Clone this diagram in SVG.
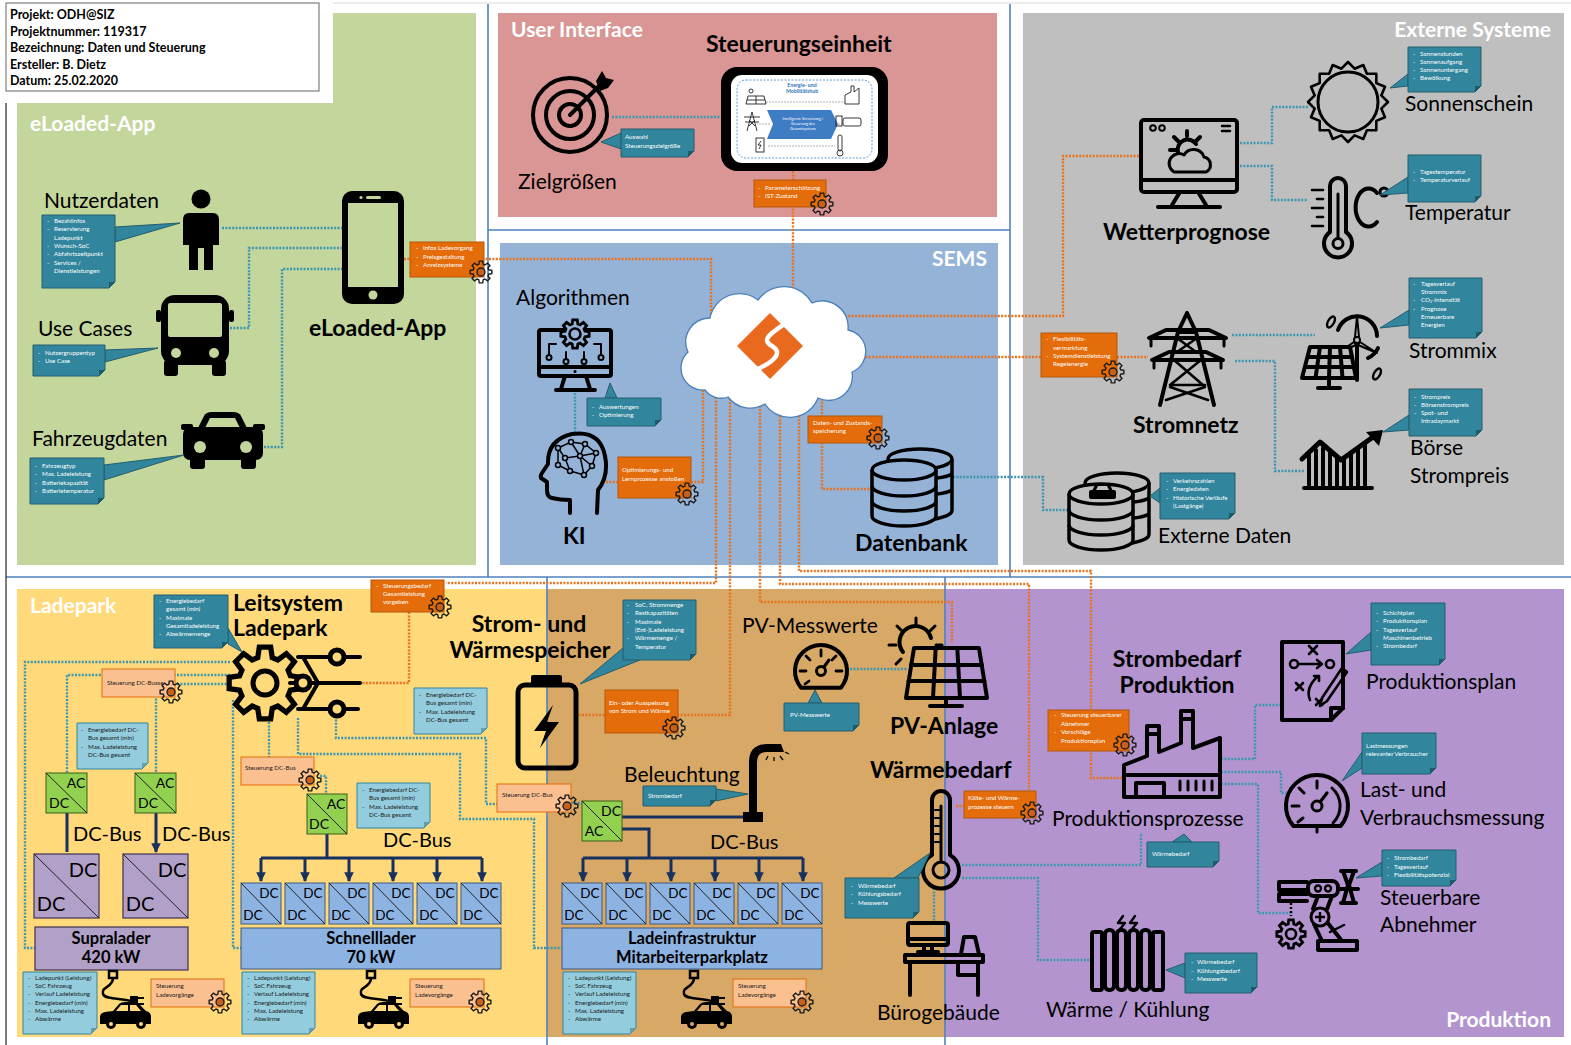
<svg xmlns="http://www.w3.org/2000/svg" width="1571" height="1045" viewBox="0 0 1571 1045">
<style>
text{font-family:Lato,"Liberation Sans","DejaVu Sans",sans-serif;fill:#000}
.lb{font-size:21px}
.bd{font-size:23px;font-weight:bold}
.pt{font-size:21px;font-weight:bold;fill:#fff}
.hd{font-size:12.5px;font-weight:bold}
.ct{font-size:6.2px;fill:#fff}
.cd{font-size:6.2px;fill:#1a1a1a}
.co{fill:#31859C;stroke:#245E6E;stroke-width:1}
.cf{fill:#1F5A69}
.cl{fill:#93CDDD;stroke:#31859C;stroke-width:1}
.clf{fill:#5E9FB2}
.ob{fill:#E46C0A;stroke:#B65708;stroke-width:1}
.lo{fill:#FAC090;stroke:#E46C0A;stroke-width:1}
.dt{fill:none;stroke:#3D97B1;stroke-width:2.4;stroke-dasharray:2 1.4}
.do{fill:none;stroke:#E8731E;stroke-width:2.4;stroke-dasharray:2 1.4}
.ic{fill:none;stroke:#000;stroke-width:4;stroke-linejoin:round;stroke-linecap:round}
.sec{fill:none;stroke:#4F81BD;stroke-width:1.6}
.bus{fill:none;stroke:#17305E;stroke-width:3}
.acdc{fill:#92D050;stroke:#3B5E1B;stroke-width:1}
.dcb{fill:#8DB3E2;stroke:#3D5A80;stroke-width:1}
.dcp{fill:#B1A0C7;stroke:#403151;stroke-width:1.2}
.dg{stroke:#222;stroke-width:1}
.s13{font-size:13.5px}
.s14{font-size:14px}
.s20{font-size:20px}
.bx{font-size:16.5px;font-weight:bold}
</style>
<defs>
<polygon id="gp" points="7.69,-2.2 10.86,-1.72 10.86,1.72 7.69,2.2 7,3.88 8.9,6.47 6.47,8.9 3.88,7 2.2,7.69 1.72,10.86 -1.72,10.86 -2.2,7.69 -3.88,7 -6.47,8.9 -8.9,6.47 -7,3.88 -7.69,2.2 -10.86,1.72 -10.86,-1.72 -7.69,-2.2 -7,-3.88 -8.9,-6.47 -6.47,-8.9 -3.88,-7 -2.2,-7.69 -1.72,-10.86 1.72,-10.86 2.2,-7.69 3.88,-7 6.47,-8.9 8.9,-6.47 7,-3.88"/>
<g id="gear">
<use href="#gp" fill="none" stroke="#1a1a1a" stroke-width="1.4"/>
<circle r="4" fill="#C7601A" stroke="#1a1a1a" stroke-width="1.3"/>
</g>
<marker id="ar" viewBox="0 0 10 10" refX="9" refY="5" markerWidth="3.2" markerHeight="3.2" orient="auto">
<path d="M0 0L10 5L0 10z" fill="#17305E"/>
</marker>
<g id="db" stroke="#000" stroke-width="3.5" stroke-linejoin="round">
<ellipse cx="49" cy="11" rx="32" ry="10"/>
<path d="M81 11V62A32 10 0 0 1 55 72"/>
<path d="M66 30Q76 29 81 26M66 46Q76 45 81 42" fill="none"/>
<path d="M1 22V68A32 10 0 0 0 65 68V22"/>
<ellipse cx="33" cy="22" rx="32" ry="10"/>
<path d="M1 38A32 10 0 0 0 65 38M1 53A32 10 0 0 0 65 53" fill="none"/>
</g>
<g id="plugcar">
<rect x="10" y="3" width="8" height="7" fill="none" stroke="#000" stroke-width="2.5"/>
<path d="M14 10C14 20 2 18 4 26C6 32 24 30 31 33" fill="none" stroke="#000" stroke-width="2.5"/>
<rect x="31" y="28" width="8" height="10" fill="#000"/>
<path d="M39 30H45M39 36H45" stroke="#000" stroke-width="2"/>
<path d="M1 56V49Q1 45 6 44L14 43L20 36Q22 34 26 34H35Q39 34 41 37L47 43Q52 44 52 49V56Z" fill="#000"/>
<path d="M17 43L22 37H29V43ZM31 37H37L42 43H31Z"/>
<circle cx="12" cy="56" r="5" fill="#000"/><circle cx="42" cy="56" r="5" fill="#000"/>
<circle cx="12" cy="56" r="2"/><circle cx="42" cy="56" r="2"/>
</g>
</defs>

<rect x="0" y="0" width="1571" height="1045" fill="#fff"/>
<path d="M319 3H1571" stroke="#ECECEC" stroke-width="2"/>

<!-- section backgrounds -->
<g id="panels">
<path d="M333 13H476V565H17V103H333Z" fill="#C3D69B"/>
<rect x="498" y="13" width="499" height="204" fill="#D99694"/>
<rect x="500" y="243" width="498" height="322" fill="#95B3D7"/>
<rect x="1023" y="13" width="541" height="552" fill="#BFBFBF"/>
<rect x="17" y="589" width="530" height="448" fill="#FFD97A"/>
<rect x="547" y="589" width="398" height="448" fill="#D8A866"/>
<rect x="945" y="589" width="619" height="448" fill="#B394CE"/>
<path class="sec" d="M488 4V577M488 230H1010M1010 4V577M6 577H1571M547 577V1045M945 577V1045"/>
<path d="M6 91V1045" stroke="#222" stroke-width="1.2"/>
<text class="pt" x="30" y="131">eLoaded-App</text>
<text class="pt" x="511" y="37">User Interface</text>
<text class="pt" x="987" y="266" text-anchor="end">SEMS</text>
<text class="pt" x="1551" y="37" text-anchor="end">Externe Systeme</text>
<text class="pt" x="30" y="613">Ladepark</text>
<text class="pt" x="1551" y="1027" text-anchor="end">Produktion</text>
</g>

<g id="header">
<rect x="0" y="0" width="333" height="103" fill="#fff"/>
<rect x="6" y="3" width="313" height="88" fill="#fff" stroke="#7F7F7F" stroke-width="1.2"/>
<text class="hd"><tspan x="10" y="19">Projekt: ODH@SIZ</tspan><tspan x="10" y="35.5">Projektnummer: 119317</tspan><tspan x="10" y="52">Bezeichnung: Daten und Steuerung</tspan><tspan x="10" y="68.5">Ersteller: B. Dietz</tspan><tspan x="10" y="85">Datum: 25.02.2020</tspan></text>
</g>

<!-- connectors -->
<g id="connectors">
<path class="dt" d="M222 228H342M230 328H249V248H342M264 447H282V269H342"/>
<path class="dt" d="M612 117H720"/>
<path class="dt" d="M575 393V432"/>
<path class="dt" d="M953 477H1043V510H1068"/>
<path class="dt" d="M1240 143H1272V107H1308M1240 166H1272V200H1308"/>
<path class="dt" d="M1232 335H1315M1235 361H1275V471H1305"/>
<path class="dt" d="M230 662H25V948H35M230 675H67V773M230 684H156V773M233 700V948H241M269 722V757M298 718V754H460V819H534V948H562M336 716V738H486V804H497M320 776H326V794M571 803H582"/>
<path class="dt" d="M850 669H907"/>
<path class="dt" d="M934 888V921M962 865H1141V833M962 878H1038V960H1089"/>
<path class="dt" d="M1221 759H1255V705H1281M1221 772H1281V793H1286M1221 784H1258V913H1293"/>
<path class="do" d="M404 259H711V360"/>
<path class="do" d="M793 171V320"/>
<path class="do" d="M606 482H703V372"/>
<path class="do" d="M822 378V489H871"/>
<path class="do" d="M838 316H1063V156H1142"/>
<path class="do" d="M845 357H1148"/>
<path class="do" d="M716 380V583H446M409 612V683H360"/>
<path class="do" d="M730 385V715H578"/>
<path class="do" d="M760 392V602H952V643"/>
<path class="do" d="M780 392V584H1029V790"/>
<path class="do" d="M799 375V571H1091V778H1123"/>
<path class="do" d="M956 806H964"/>
<path class="bus" d="M67 813V852M156 813V852" marker-end="url(#ar)"/>
<path class="bus" d="M327 834V858M261 858H482M622 817H745M622 829H649V858M583 858H803"/>
<path class="bus" marker-end="url(#ar)" d="M261 858V881"/>
<path class="bus" marker-end="url(#ar)" d="M305 858V881"/>
<path class="bus" marker-end="url(#ar)" d="M349 858V881"/>
<path class="bus" marker-end="url(#ar)" d="M393 858V881"/>
<path class="bus" marker-end="url(#ar)" d="M437 858V881"/>
<path class="bus" marker-end="url(#ar)" d="M482 858V881"/>
<path class="bus" marker-end="url(#ar)" d="M583 858V881"/>
<path class="bus" marker-end="url(#ar)" d="M627 858V881"/>
<path class="bus" marker-end="url(#ar)" d="M671 858V881"/>
<path class="bus" marker-end="url(#ar)" d="M715 858V881"/>
<path class="bus" marker-end="url(#ar)" d="M759 858V881"/>
<path class="bus" marker-end="url(#ar)" d="M803 858V881"/>
</g>

<!-- eLoaded-App -->
<g id="nutzerdaten">
<text class="lb" x="44" y="208">Nutzerdaten</text>
<circle cx="201" cy="199" r="9.5"/>
<path d="M189 213H213Q219 213 219 220V245H213V270H204V248H198V270H189V245H183V220Q183 213 189 213Z"/>
<polygon class="co" points="115,227 180,223 115,242"/>
<path class="co" d="M42 215h73v67l-6 6h-67z"/><path class="cf" d="M115 282h-6v6z"/>
<text class="ct"><tspan x="47" y="223">-</tspan><tspan x="54">Bezahlinfos</tspan><tspan x="47" y="231.3">-</tspan><tspan x="54">Reservierung</tspan><tspan x="54" y="239.6">Ladepunkt</tspan><tspan x="47" y="247.9">-</tspan><tspan x="54">Wunsch-SoC</tspan><tspan x="47" y="256.2">-</tspan><tspan x="54">Abfahrtszeitpunkt</tspan><tspan x="47" y="264.5">-</tspan><tspan x="54">Services /</tspan><tspan x="54" y="272.8">Dienstleistungen</tspan></text>
</g>
<g id="usecases">
<text class="lb" x="38" y="336">Use Cases</text>
<rect x="161" y="295" width="68" height="70" rx="14"/>
<rect x="168" y="303" width="54" height="34" rx="2" fill="#C3D69B"/>
<circle cx="176" cy="353" r="5" fill="#C3D69B"/><circle cx="214" cy="353" r="5" fill="#C3D69B"/>
<rect x="164" y="360" width="14" height="16" rx="3"/><rect x="212" y="360" width="14" height="16" rx="3"/>
<rect x="156" y="310" width="5" height="12" rx="2"/><rect x="229" y="310" width="5" height="12" rx="2"/>
<polygon class="co" points="105,350 158,348 105,362"/>
<path class="co" d="M33 345h72v25l-6 6h-66z"/><path class="cf" d="M105 370h-6v6z"/>
<text class="ct"><tspan x="38" y="355">-</tspan><tspan x="45">Nutzergruppentyp</tspan><tspan x="38" y="363">-</tspan><tspan x="45">Use Case</tspan></text>
</g>
<g id="fahrzeugdaten">
<text class="lb" x="32" y="446">Fahrzeugdaten</text>
<path d="M197 430L204 416Q206 412 212 412H233Q239 412 241 416L248 430Z"/>
<path d="M205 428L210 418H235L240 428Z" fill="#C3D69B"/>
<rect x="183" y="427" width="80" height="33" rx="7"/>
<rect x="181" y="424" width="12" height="6" rx="2"/><rect x="253" y="424" width="12" height="6" rx="2"/>
<rect x="190" y="454" width="15" height="15" rx="3"/><rect x="241" y="454" width="15" height="15" rx="3"/>
<circle cx="200" cy="447" r="6" fill="#C3D69B"/><circle cx="246" cy="447" r="6" fill="#C3D69B"/>
<polygon class="co" points="104,465 184,455 104,480"/>
<path class="co" d="M30 458h74v40l-6 6h-68z"/><path class="cf" d="M104 498h-6v6z"/>
<text class="ct"><tspan x="35" y="468">-</tspan><tspan x="42">Fahrzeugtyp</tspan><tspan x="35" y="476.3">-</tspan><tspan x="42">Max. Ladeleistung</tspan><tspan x="35" y="484.6">-</tspan><tspan x="42">Batteriekapazität</tspan><tspan x="35" y="492.9">-</tspan><tspan x="42">Batterietemperatur</tspan></text>
</g>
<g id="eloaded-app">
<rect x="342" y="191" width="62" height="113" rx="10"/>
<rect x="348" y="203" width="50" height="84" fill="#C3D69B"/>
<rect x="366" y="196" width="15" height="3" rx="1.5" fill="#C3D69B"/>
<circle cx="361" cy="197.5" r="1.6" fill="#C3D69B"/>
<circle cx="373" cy="295" r="4.5" fill="#C3D69B"/>
<text class="bd" x="309" y="336">eLoaded-App</text>
<rect class="ob" x="410" y="242" width="74" height="35"/>
<text class="ct"><tspan x="416" y="250">-</tspan><tspan x="423">Infos Ladevorgang</tspan><tspan x="416" y="258.5">-</tspan><tspan x="423">Preisgestaltung</tspan><tspan x="416" y="267">-</tspan><tspan x="423">Anreizsysteme</tspan></text>
<use href="#gear" transform="translate(481 272)"/>
</g>

<!-- User Interface -->
<g id="zielgroessen">
<g class="ic" stroke-width="5">
<circle cx="570" cy="115" r="37"/><circle cx="570" cy="115" r="24"/><circle cx="570" cy="115" r="11"/>
<path d="M570 115L600 85"/>
</g>
<polygon points="596,81 602,71 606,78 614,80 608,88 600,91" fill="#000"/>
<text class="lb" x="518" y="189">Zielgrößen</text>
<polygon class="co" points="621,133 601,142 621,149"/>
<path class="co" d="M621 129h73v22l-6 6h-67z"/><path class="cf" d="M694 151h-6v6z"/>
<text class="ct"><tspan x="625" y="139">Auswahl</tspan><tspan x="625" y="147.5">Steuerungszielgröße</tspan></text>
</g>
<g id="steuerungseinheit">
<text class="bd" x="706" y="52">Steuerungseinheit</text>
<rect x="721" y="67" width="167" height="104" rx="16"/>
<rect x="731" y="75" width="147" height="88" rx="11" fill="#fff"/>
<rect x="737" y="80" width="135" height="78" rx="9" fill="none" stroke="#5B9BD5" stroke-dasharray="2 1.5"/>
<text x="802" y="87" text-anchor="middle" font-size="5.2" font-weight="bold" style="fill:#2E75B6">Energie- und<tspan x="802" y="93">Mobilitätshub</tspan></text>
<path d="M766 102H845M768 146H835M770 124H757M835 124H842" stroke="#999" stroke-width="0.8" stroke-dasharray="2 1"/>
<polygon points="767,110 831,110 838,124 831,139 767,139 773,124" fill="#3E7CC3"/>
<text x="803" y="120" text-anchor="middle" font-size="3.8" style="fill:#fff">Intelligente Vernetzung /<tspan x="803" y="125">Steuerung des</tspan><tspan x="803" y="130">Gesamtsystems</tspan></text>
<g fill="none" stroke="#222" stroke-width="0.9">
<polygon points="748,96 764,96 766,104 746,104"/><path d="M747 100H765M756 96V104"/><circle cx="751" cy="91" r="2"/>
<path d="M752 112L747 131M752 112L757 131M744 117H760M745 122H759M749 120L755 126M755 120L749 126"/>
<rect x="756" y="138" width="8" height="14"/><path d="M761 141L758 145H761L759 149"/>
<path d="M845 104V95L851 92V86H854V92L859 88V104Z"/>
<rect x="843" y="118" width="18" height="8" rx="2"/><rect x="836" y="116" width="6" height="10"/>
<rect x="838" y="135" width="4" height="16" rx="2"/><circle cx="840" cy="153" r="3"/>
</g>
<rect class="ob" x="754" y="180" width="72" height="27"/>
<text class="ct"><tspan x="758" y="189.5">-</tspan><tspan x="765">Parameterschätzung</tspan><tspan x="758" y="197.5">-</tspan><tspan x="765">IST-Zustand</tspan></text>
<use href="#gear" transform="translate(822 204)"/>
</g>

<!-- SEMS -->
<g id="algorithmen">
<text class="lb" x="516" y="305">Algorithmen</text>
<g class="ic" stroke-width="3.2">
<rect x="539" y="330" width="72" height="46" rx="2"/>
<path d="M539 367H611M565 376L561 389M586 376L590 389M556 390H595"/>
<path d="M556 344H549V355M594 344H601V355M566 352V359M584 352V359" stroke-width="2"/>
</g>
<circle cx="575" cy="371.5" r="1.5"/>
<g fill="#95B3D7" stroke="#000" stroke-width="2"><circle cx="549" cy="357.5" r="2.5"/><circle cx="601" cy="357.5" r="2.5"/><circle cx="566" cy="361.5" r="2.5"/><circle cx="584" cy="361.5" r="2.5"/></g>
<use href="#gp" transform="translate(575 334) scale(1.3)" fill="#95B3D7" stroke="#000" stroke-width="2.2"/>
<circle cx="575" cy="334" r="5.5" fill="none" stroke="#000" stroke-width="2.6"/>
<polygon class="co" points="605,398 610,383 617,398"/>
<path class="co" d="M587 398h74v22l-6 6h-68z"/><path class="cf" d="M661 420h-6v6z"/>
<text class="ct"><tspan x="592" y="409">-</tspan><tspan x="599">Auswertungen</tspan><tspan x="592" y="417">-</tspan><tspan x="599">Optimierung</tspan></text>
</g>
<g id="ki">
<path class="ic" stroke-width="3" d="M570 513V500Q560 500 552 498Q547 497 547 490V482L541 478Q540 476 542 473L548 464Q547 440 572 434Q600 430 605 456Q609 476 598 490L597 513"/>
<g fill="none" stroke="#000" stroke-width="1.5">
<path d="M558 448L571 442L585 444L596 453L592 466L584 475L570 471L558 465Z M571 442L580 456L565 458L558 448 M585 444L580 456L592 466 M565 458L570 471 M580 456L584 475 M596 453L580 456"/>
</g>
<g fill="#95B3D7" stroke="#000" stroke-width="1.5">
<circle cx="558" cy="448" r="2.5"/><circle cx="571" cy="442" r="2.5"/><circle cx="585" cy="444" r="2.5"/><circle cx="596" cy="453" r="2.5"/><circle cx="592" cy="466" r="2.5"/><circle cx="584" cy="475" r="2.5"/><circle cx="570" cy="471" r="2.5"/><circle cx="558" cy="465" r="2.5"/><circle cx="580" cy="456" r="2.5"/><circle cx="565" cy="458" r="2.5"/>
</g>
<text class="bd" x="563" y="544">KI</text>
<rect class="ob" x="618" y="457" width="73" height="41"/>
<text class="ct"><tspan x="622" y="472">Optimierungs- und</tspan><tspan x="622" y="480.5">Lernprozesse anstoßen</tspan></text>
<use href="#gear" transform="translate(687 494)"/>
</g>
<g id="sems-cloud">
<path d="M705 390A22 22 0 0 1 688 352A24 24 0 0 1 710 318A30 30 0 0 1 758 300A32 32 0 0 1 812 303A26 26 0 0 1 848 330A22 22 0 0 1 852 372A24 24 0 0 1 818 398A30 30 0 0 1 765 404A28 28 0 0 1 728 397A20 20 0 0 1 705 390Z" fill="#fff" stroke="#4A7EBB" stroke-width="1.3"/>
<polygon points="770,313 803,346 770,379 737,346" fill="#E96A1E"/>
<path d="M783 325C770 334 761 340 772 346C782 352 777 360 758 369" fill="none" stroke="#fff" stroke-width="4.5"/>
</g>
<g id="datenbank">
<use href="#db" transform="translate(871 448)" fill="#95B3D7"/>
<text class="bd" x="855" y="551">Datenbank</text>
<rect class="ob" x="808" y="416" width="74" height="27"/>
<text class="ct"><tspan x="813" y="425">Daten- und Zustands-</tspan><tspan x="813" y="433">speicherung</tspan></text>
<use href="#gear" transform="translate(878 438)"/>
</g>

<!-- Externe Systeme -->
<g id="wetterprognose">
<g class="ic" stroke-width="3.5">
<rect x="1141" y="120" width="96" height="72" rx="3"/>
<path d="M1141 180H1237M1180 192L1172 205M1198 192L1206 205M1158 207H1220"/>
<path d="M1222 126H1230M1222 131H1230" stroke-width="2.5"/>
<path d="M1178 152A10 10 0 0 1 1196 144M1187 131V136M1174 137L1178 141M1200 137L1196 141M1170 150H1175"/>
<path d="M1174 172H1206A8 8 0 0 0 1204 157A11 11 0 0 0 1184 155A8 8 0 0 0 1174 172Z" stroke-width="3"/>
</g>
<circle cx="1153" cy="128" r="2.8" fill="none" stroke="#000" stroke-width="2"/><circle cx="1162" cy="128" r="2.8" fill="none" stroke="#000" stroke-width="2"/>
<text class="bd" x="1103" y="240">Wetterprognose</text>
</g>
<g id="sonnenschein">
<polygon points="1388,102 1381.3,108.6 1385,117.3 1376.3,120.9 1376.3,130.3 1366.9,130.3 1363.3,139 1354.6,135.4 1348,142 1341.4,135.4 1332.7,139 1329.1,130.3 1319.7,130.3 1319.7,120.9 1311,117.3 1314.7,108.6 1308,102 1314.7,95.4 1311,86.7 1319.7,83.1 1319.7,73.7 1329.1,73.7 1332.7,65 1341.4,68.7 1348,62 1354.6,68.7 1363.3,65 1366.9,73.7 1376.3,73.7 1376.3,83.1 1385,86.7 1381.3,95.4" fill="none" stroke="#000" stroke-width="2.6" stroke-linejoin="round"/>
<circle cx="1348" cy="102" r="30" fill="none" stroke="#000" stroke-width="3"/>
<text class="lb" x="1405" y="111">Sonnenschein</text>
<polygon class="co" points="1408,74 1390,88 1408,86"/>
<path class="co" d="M1408 47h73v39l-6 6h-67z"/><path class="cf" d="M1481 86h-6v6z"/>
<text class="ct"><tspan x="1413" y="55.5">-</tspan><tspan x="1420">Sonnenstunden</tspan><tspan x="1413" y="63.8">-</tspan><tspan x="1420">Sonnenaufgang</tspan><tspan x="1413" y="72">-</tspan><tspan x="1420">Sonnenuntergang</tspan><tspan x="1413" y="80.3">-</tspan><tspan x="1420">Bewölkung</tspan></text>
</g>
<g id="temperatur">
<g class="ic" stroke-width="3.5">
<path d="M1330 232V186A8 8 0 0 1 1346 186V232A14 14 0 1 1 1330 232Z"/>
<path d="M1338 238V194" stroke-width="3"/>
<path d="M1312 190H1323M1317 199H1323M1312 208H1323M1317 217H1323M1312 226H1323" stroke-width="2.6"/>
<path d="M1377 193A13 19 0 1 0 1377 222"/>
</g>
<circle cx="1338" cy="243.5" r="5" fill="none" stroke="#000" stroke-width="3"/>
<circle cx="1384" cy="192" r="4" fill="none" stroke="#000" stroke-width="3"/>
<text class="lb" x="1405" y="220">Temperatur</text>
<polygon class="co" points="1408,177 1380,195 1408,193"/>
<path class="co" d="M1408 155h73v41l-6 6h-67z"/><path class="cf" d="M1481 196h-6v6z"/>
<text class="ct"><tspan x="1413" y="174">-</tspan><tspan x="1420">Tagestemperatur</tspan><tspan x="1413" y="182">-</tspan><tspan x="1420">Temperaturverlauf</tspan></text>
</g>
<g id="stromnetz">
<g class="ic" stroke-width="3.5">
<path d="M1187 313L1178 332L1160 405M1187 313L1196 332L1214 405M1178 332H1196"/>
<path d="M1149 338H1226L1209 330H1166ZM1152 360H1223L1206 352H1169Z"/>
<path d="M1151 338V346M1224 338V346M1154 360V368M1221 360V368" stroke-width="3"/>
<path d="M1177 338L1196 352M1197 338L1177 352M1174 360L1203 385M1201 360L1170 385M1170 385H1205M1166 400L1205 387M1208 400L1170 387" stroke-width="2.6"/>
</g>
<text class="bd" x="1133" y="433">Stromnetz</text>
<rect class="ob" x="1041" y="333" width="76" height="44"/>
<text class="ct"><tspan x="1046" y="341">-</tspan><tspan x="1053">Flexibilitäts-</tspan><tspan x="1053" y="349.5">vermarktung</tspan><tspan x="1046" y="358">-</tspan><tspan x="1053">Systemdienstleistung</tspan><tspan x="1053" y="366">Regelenergie</tspan></text>
<use href="#gear" transform="translate(1113 372)"/>
</g>
<g id="strommix">
<g class="ic" stroke-width="3">
<path d="M1338 330A20 20 0 0 1 1377 336M1378 348A20 20 0 0 1 1368 358"/>
<path d="M1357 344V380"/>
<path d="M1355 337L1357 316L1359 337ZM1360 342L1377 353L1358 345ZM1354 342L1338 353L1356 345Z" stroke-width="2"/>
<ellipse cx="1331" cy="322" rx="3" ry="6" transform="rotate(30 1331 322)" stroke-width="2.4"/>
<ellipse cx="1377" cy="374" rx="3" ry="6" transform="rotate(30 1377 374)" stroke-width="2.4"/>
<polygon points="1310,347 1350,347 1356,378 1302,378" fill="#BFBFBF"/>
<path d="M1320 347L1315.5 378M1330 347L1329 378M1340 347L1342.5 378M1308 357H1352M1306 367H1354M1329 378V387M1318 388H1340"/>
</g>
<circle cx="1357" cy="340" r="3" fill="#BFBFBF" stroke="#000" stroke-width="2"/>
<text class="lb" x="1409" y="358">Strommix</text>
<polygon class="co" points="1409,310 1380,328 1409,325"/>
<path class="co" d="M1409 278h73v54l-6 6h-67z"/><path class="cf" d="M1482 332h-6v6z"/>
<text class="ct"><tspan x="1413" y="285.5">-</tspan><tspan x="1421">Tagesverlauf</tspan><tspan x="1421" y="294">Strommix</tspan><tspan x="1413" y="302">-</tspan><tspan x="1421">CO₂-Intensität</tspan><tspan x="1413" y="310.5">-</tspan><tspan x="1421">Prognose</tspan><tspan x="1421" y="319">Erneuerbare</tspan><tspan x="1421" y="327">Energien</tspan></text>
</g>
<g id="boerse">
<g class="ic" stroke-width="3">
<path d="M1309 487V455M1316 487V450M1323 487V448M1330 487V452M1337 487V458M1344 487V458M1351 487V453M1358 487V448M1365 487V443M1304 488H1372"/>
<path d="M1302 459L1320 442L1341 460L1373 437" stroke-width="5"/>
</g>
<polygon points="1366,432 1383,430 1379,446"/>
<text class="lb" x="1410" y="455">Börse</text>
<text class="lb" x="1410" y="483">Strompreis</text>
<polygon class="co" points="1409,415 1383,432 1409,430"/>
<path class="co" d="M1409 389h73v41l-6 6h-67z"/><path class="cf" d="M1482 430h-6v6z"/>
<text class="ct"><tspan x="1414" y="399">-</tspan><tspan x="1421">Strompreis</tspan><tspan x="1414" y="407">-</tspan><tspan x="1421">Börsenstrompreis</tspan><tspan x="1414" y="415">-</tspan><tspan x="1421">Spot- und</tspan><tspan x="1421" y="423">Intradaymarkt</tspan></text>
</g>
<g id="externe-daten">
<use href="#db" transform="translate(1068 472)" fill="#BFBFBF"/>
<path d="M1092 491L1095 485Q1096 483 1099 483H1106Q1109 483 1110 485L1113 491Z"/>
<rect x="1089" y="490" width="27" height="9" rx="2"/>
<path d="M1096 490L1098 486H1107L1109 490Z" fill="#BFBFBF"/>
<text class="lb" x="1158" y="543">Externe Daten</text>
<polygon class="co" points="1160,488 1150,496 1160,503"/>
<path class="co" d="M1160 473h75v40l-6 6h-69z"/><path class="cf" d="M1235 513h-6v6z"/>
<text class="ct"><tspan x="1166" y="483">-</tspan><tspan x="1173">Verkehrszahlen</tspan><tspan x="1166" y="491">-</tspan><tspan x="1173">Energiedaten</tspan><tspan x="1166" y="499.5">-</tspan><tspan x="1173">Historische Verläufe</tspan><tspan x="1173" y="508">(Lastgänge)</tspan></text>
</g>

<!-- Ladepark -->
<g id="leitsystem">
<text class="bd" x="233" y="611">Leitsystem</text>
<text class="bd" x="233" y="636">Ladepark</text>
<use href="#gp" transform="translate(265 683) scale(3.3)" fill="none" stroke="#000" stroke-width="1.6"/>
<circle cx="265" cy="683" r="12" fill="none" stroke="#000" stroke-width="5"/>
<g class="ic" stroke-width="5">
<path d="M298 657H360M290 683H360M298 709H358M303 657L318 683M303 709L318 683"/>
</g>
<g fill="#FFD97A" stroke="#000" stroke-width="5"><circle cx="337" cy="657" r="7"/><circle cx="303" cy="683" r="7"/><circle cx="337" cy="709" r="7"/></g>
<polygon class="co" points="228,628 242,652 228,644"/>
<path class="co" d="M154 595h74v47l-6 6h-68z"/><path class="cf" d="M228 642h-6v6z"/>
<text class="ct"><tspan x="159" y="603">-</tspan><tspan x="166">Energiebedarf</tspan><tspan x="166" y="611.3">gesamt (min)</tspan><tspan x="159" y="619.6">-</tspan><tspan x="166">Maximale</tspan><tspan x="166" y="628">Gesamtladeleistung</tspan><tspan x="159" y="636.2">-</tspan><tspan x="166">Abwärmemenge</tspan></text>
<rect class="ob" x="371" y="580" width="73" height="32"/>
<text class="ct"><tspan x="376" y="588">-</tspan><tspan x="383">Steuerungsbedarf</tspan><tspan x="383" y="596">Gesamtleistung</tspan><tspan x="383" y="604">vorgeben</tspan></text>
<use href="#gear" transform="translate(440 607)"/>
<rect class="lo" x="102" y="669" width="73" height="28"/>
<text class="cd" x="107" y="685">Steuerung DC-Busse</text>
<use href="#gear" transform="translate(171 692)"/>
</g>
<g id="supralader">
<path class="cl" d="M77 723h71v40l-6 6h-65z"/><path class="clf" d="M148 763h-6v6z"/>
<text class="cd"><tspan x="81" y="732">-</tspan><tspan x="88">Energiebedarf DC-</tspan><tspan x="88" y="740">Bus gesamt (min)</tspan><tspan x="81" y="748.5">-</tspan><tspan x="88">Max. Ladeleistung</tspan><tspan x="88" y="757">DC-Bus gesamt</tspan></text>
<rect class="acdc" x="46" y="773" width="41" height="40"/><path class="dg" d="M46 773L87 813"/>
<text class="s14" x="76" y="788" text-anchor="middle">AC</text><text class="s14" x="59" y="808" text-anchor="middle">DC</text>
<rect class="acdc" x="135" y="773" width="41" height="40"/><path class="dg" d="M135 773L176 813"/>
<text class="s14" x="165" y="788" text-anchor="middle">AC</text><text class="s14" x="148" y="808" text-anchor="middle">DC</text>
<text class="s20" x="73" y="841">DC-Bus</text>
<text class="s20" x="162" y="841">DC-Bus</text>
<rect class="dcp" x="34" y="854" width="65" height="64"/><path class="dg" d="M34 854L99 918"/>
<text class="s20" x="83" y="877" text-anchor="middle">DC</text><text class="s20" x="51" y="911" text-anchor="middle">DC</text>
<rect class="dcp" x="123" y="854" width="65" height="64"/><path class="dg" d="M123 854L188 918"/>
<text class="s20" x="172" y="877" text-anchor="middle">DC</text><text class="s20" x="140" y="911" text-anchor="middle">DC</text>
<rect class="dcp" x="35" y="927" width="153" height="43" stroke="#555"/>
<text class="bx" x="111" y="944" text-anchor="middle">Supralader</text>
<text class="bx" x="111" y="963" text-anchor="middle">420 kW</text>
<path class="cl" d="M23 972h74v56l-6 6h-68z"/><path class="clf" d="M97 1028h-6v6z"/>
<text class="cd"><tspan x="28" y="980">-</tspan><tspan x="35">Ladepunkt (Leistung)</tspan><tspan x="28" y="988">-</tspan><tspan x="35">SoC Fahrzeug</tspan><tspan x="28" y="996">-</tspan><tspan x="35">Verlauf Ladeleistung</tspan><tspan x="28" y="1004.5">-</tspan><tspan x="35">Energiebedarf (min)</tspan><tspan x="28" y="1013">-</tspan><tspan x="35">Max. Ladeleistung</tspan><tspan x="28" y="1021">-</tspan><tspan x="35">Abwärme</tspan></text>
<use href="#plugcar" transform="translate(99 968)" fill="#FFD97A"/>
<rect class="lo" x="151" y="979" width="73" height="28"/>
<text class="cd"><tspan x="156" y="988">Steuerung</tspan><tspan x="156" y="996.5">Ladevorgänge</tspan></text>
<use href="#gear" transform="translate(220 1002)"/>
</g>
<g id="schnelllader">
<rect class="lo" x="241" y="757" width="73" height="28"/>
<text class="cd" x="245" y="770">Steuerung DC-Bus</text>
<use href="#gear" transform="translate(310 780)"/>
<path class="cl" d="M357 783h73v39l-6 6h-67z"/><path class="clf" d="M430 822h-6v6z"/>
<text class="cd"><tspan x="362" y="792">-</tspan><tspan x="369">Energiebedarf DC-</tspan><tspan x="369" y="800.3">Bus gesamt (min)</tspan><tspan x="362" y="808.6">-</tspan><tspan x="369">Max. Ladeleistung</tspan><tspan x="369" y="817">DC-Bus gesamt</tspan></text>
<rect class="acdc" x="307" y="794" width="40" height="40"/><path class="dg" d="M307 794L347 834"/>
<text class="s14" x="336" y="809" text-anchor="middle">AC</text><text class="s14" x="319" y="829" text-anchor="middle">DC</text>
<text class="s20" x="383" y="847">DC-Bus</text>
<rect class="dcb" x="241" y="883" width="40" height="41"/><path class="dg" d="M241 883L281 924"/><text class="s13" x="269" y="898" text-anchor="middle">DC</text><text class="s13" x="253" y="920" text-anchor="middle">DC</text>
<rect class="dcb" x="285" y="883" width="40" height="41"/><path class="dg" d="M285 883L325 924"/><text class="s13" x="313" y="898" text-anchor="middle">DC</text><text class="s13" x="297" y="920" text-anchor="middle">DC</text>
<rect class="dcb" x="329" y="883" width="40" height="41"/><path class="dg" d="M329 883L369 924"/><text class="s13" x="357" y="898" text-anchor="middle">DC</text><text class="s13" x="341" y="920" text-anchor="middle">DC</text>
<rect class="dcb" x="373" y="883" width="40" height="41"/><path class="dg" d="M373 883L413 924"/><text class="s13" x="401" y="898" text-anchor="middle">DC</text><text class="s13" x="385" y="920" text-anchor="middle">DC</text>
<rect class="dcb" x="417" y="883" width="40" height="41"/><path class="dg" d="M417 883L457 924"/><text class="s13" x="445" y="898" text-anchor="middle">DC</text><text class="s13" x="429" y="920" text-anchor="middle">DC</text>
<rect class="dcb" x="461" y="883" width="40" height="41"/><path class="dg" d="M461 883L501 924"/><text class="s13" x="489" y="898" text-anchor="middle">DC</text><text class="s13" x="473" y="920" text-anchor="middle">DC</text>
<rect class="dcb" x="241" y="928" width="260" height="41"/>
<text class="bx" x="371" y="944" text-anchor="middle">Schnelllader</text>
<text class="bx" x="371" y="963" text-anchor="middle">70 kW</text>
<path class="cl" d="M242 972h73v56l-6 6h-67z"/><path class="clf" d="M315 1028h-6v6z"/>
<text class="cd"><tspan x="247" y="980">-</tspan><tspan x="254">Ladepunkt (Leistung)</tspan><tspan x="247" y="988">-</tspan><tspan x="254">SoC Fahrzeug</tspan><tspan x="247" y="996">-</tspan><tspan x="254">Verlauf Ladeleistung</tspan><tspan x="247" y="1004.5">-</tspan><tspan x="254">Energiebedarf (min)</tspan><tspan x="247" y="1013">-</tspan><tspan x="254">Max. Ladeleistung</tspan><tspan x="247" y="1021">-</tspan><tspan x="254">Abwärme</tspan></text>
<use href="#plugcar" transform="translate(357 968)" fill="#FFD97A"/>
<rect class="lo" x="410" y="979" width="74" height="28"/>
<text class="cd"><tspan x="415" y="988">Steuerung</tspan><tspan x="415" y="996.5">Ladevorgänge</tspan></text>
<use href="#gear" transform="translate(480 1002)"/>
</g>

<!-- Strom- und Waermespeicher / Mitarbeiterparkplatz -->
<g id="speicher">
<text class="bd" x="529" y="632" text-anchor="middle">Strom- und</text>
<text class="bd" x="530" y="658" text-anchor="middle">Wärmespeicher</text>
<rect x="531" y="675" width="31" height="10" rx="2"/>
<rect x="518" y="685" width="58" height="83" rx="7" fill="none" stroke="#000" stroke-width="5"/>
<polygon points="553,705 534,731 546,731 540,748 559,722 547,722"/>
<polygon class="co" points="623,648 580,684 640,660"/>
<path class="co" d="M623 600h73v54l-6 6h-67z"/><path class="cf" d="M696 654h-6v6z"/>
<text class="ct"><tspan x="627" y="607">-</tspan><tspan x="635">SoC, Strommenge</tspan><tspan x="627" y="615.3">-</tspan><tspan x="635">Restkapazitäten</tspan><tspan x="627" y="623.7">-</tspan><tspan x="635">Maximale</tspan><tspan x="635" y="632">(Ent-)Ladeleistung</tspan><tspan x="627" y="640.3">-</tspan><tspan x="635">Wärmemenge /</tspan><tspan x="635" y="648.6">Temperatur</tspan></text>
<rect class="ob" x="605" y="690" width="73" height="43"/>
<text class="ct"><tspan x="609" y="705">Ein- oder Ausspeisung</tspan><tspan x="609" y="713">von Strom und Wärme</tspan></text>
<use href="#gear" transform="translate(674 728)"/>
<path class="cl" d="M414 688h73v40l-6 6h-67z"/><path class="clf" d="M487 728h-6v6z"/>
<text class="cd"><tspan x="419" y="697">-</tspan><tspan x="426">Energiebedarf DC-</tspan><tspan x="426" y="705">Bus gesamt (min)</tspan><tspan x="419" y="713.5">-</tspan><tspan x="426">Max. Ladeleistung</tspan><tspan x="426" y="722">DC-Bus gesamt</tspan></text>
</g>
<g id="beleuchtung">
<path d="M753 815V762Q753 748 767 748H771" fill="none" stroke="#000" stroke-width="8"/>
<path d="M766 744H781L784 752H763Z"/>
<path d="M768 756L766 760M774 757V761M780 756L783 760M785 752L789 754" stroke="#000" stroke-width="1.3"/>
<rect x="743" y="812" width="20" height="10"/>
<text class="lb" x="624" y="782">Beleuchtung</text>
<polygon class="co" points="716,789 748,794 716,801"/>
<path class="co" d="M643 786h73v14l-6 6h-67z"/><path class="cf" d="M716 800h-6v6z"/>
<text class="ct" x="648" y="798">Strombedarf</text>
</g>
<g id="ladeinfrastruktur">
<rect class="lo" x="497" y="784" width="74" height="28"/>
<text class="cd" x="502" y="797">Steuerung DC-Bus</text>
<use href="#gear" transform="translate(567 806)"/>
<rect class="acdc" x="582" y="801" width="40" height="40"/><path class="dg" d="M582 801L622 841"/>
<text class="s14" x="611" y="816" text-anchor="middle">DC</text><text class="s14" x="594" y="836" text-anchor="middle">AC</text>
<text class="s20" x="710" y="849">DC-Bus</text>
<rect class="dcb" x="562" y="883" width="40" height="41"/><path class="dg" d="M562 883L602 924"/><text class="s13" x="590" y="898" text-anchor="middle">DC</text><text class="s13" x="574" y="920" text-anchor="middle">DC</text>
<rect class="dcb" x="606" y="883" width="40" height="41"/><path class="dg" d="M606 883L646 924"/><text class="s13" x="634" y="898" text-anchor="middle">DC</text><text class="s13" x="618" y="920" text-anchor="middle">DC</text>
<rect class="dcb" x="650" y="883" width="40" height="41"/><path class="dg" d="M650 883L690 924"/><text class="s13" x="678" y="898" text-anchor="middle">DC</text><text class="s13" x="662" y="920" text-anchor="middle">DC</text>
<rect class="dcb" x="694" y="883" width="40" height="41"/><path class="dg" d="M694 883L734 924"/><text class="s13" x="722" y="898" text-anchor="middle">DC</text><text class="s13" x="706" y="920" text-anchor="middle">DC</text>
<rect class="dcb" x="738" y="883" width="40" height="41"/><path class="dg" d="M738 883L778 924"/><text class="s13" x="766" y="898" text-anchor="middle">DC</text><text class="s13" x="750" y="920" text-anchor="middle">DC</text>
<rect class="dcb" x="782" y="883" width="40" height="41"/><path class="dg" d="M782 883L822 924"/><text class="s13" x="810" y="898" text-anchor="middle">DC</text><text class="s13" x="794" y="920" text-anchor="middle">DC</text>
<rect class="dcb" x="562" y="928" width="260" height="41"/>
<text class="bx" x="692" y="944" text-anchor="middle">Ladeinfrastruktur</text>
<text class="bx" x="692" y="963" text-anchor="middle">Mitarbeiterparkplatz</text>
<path class="cl" d="M563 972h73v56l-6 6h-67z"/><path class="clf" d="M636 1028h-6v6z"/>
<text class="cd"><tspan x="568" y="980">-</tspan><tspan x="575">Ladepunkt (Leistung)</tspan><tspan x="568" y="988">-</tspan><tspan x="575">SoC Fahrzeug</tspan><tspan x="568" y="996">-</tspan><tspan x="575">Verlauf Ladeleistung</tspan><tspan x="568" y="1004.5">-</tspan><tspan x="575">Energiebedarf (min)</tspan><tspan x="568" y="1013">-</tspan><tspan x="575">Max. Ladeleistung</tspan><tspan x="568" y="1021">-</tspan><tspan x="575">Abwärme</tspan></text>
<use href="#plugcar" transform="translate(680 968)" fill="#D8A866"/>
<rect class="lo" x="733" y="979" width="73" height="28"/>
<text class="cd"><tspan x="738" y="988">Steuerung</tspan><tspan x="738" y="996.5">Ladevorgänge</tspan></text>
<use href="#gear" transform="translate(802 1002)"/>
</g>
<g id="pv-messwerte">
<text class="lb" x="742" y="633">PV-Messwerte</text>
<g class="ic" stroke-width="3.5">
<path d="M801.1 687.7A26 26 0 1 1 840.9 687.7Z"/>
<path d="M821 650V656M800 671H806M806 656L810 660M836 656L832 660M805 684L809 681M836 671H842" stroke-width="2.8"/>
<path d="M821 671L829 660" stroke-width="3"/>
</g>
<circle cx="821" cy="671" r="4.5" fill="#D8A866" stroke="#000" stroke-width="3"/>
<polygon class="co" points="808,703 815,690 822,703"/>
<path class="co" d="M784 703h75v22l-6 6h-69z"/><path class="cf" d="M859 725h-6v6z"/>
<text class="ct" x="790" y="717">PV-Messwerte</text>
</g>
<g id="pv-anlage">
<g class="ic" stroke-width="3.5">
<path d="M903 652A16 16 0 1 1 931 638"/>
<path d="M916 625V618M902 631L897 626M930 631L935 626M896 645H889M901 659L896 664M936 645H942" stroke-width="3"/>
<polygon points="914,648 979,648 987,698 906,698"/>
<path d="M935.7 648L933 698M957.3 648L960 698M911 665H982M908.5 681H984.5M946 698V706M930 706H962"/>
</g>
<text class="bd" x="890" y="734">PV-Anlage</text>
</g>
<g id="waermebedarf">
<text class="bd" x="870" y="778">Wärmebedarf</text>
<g class="ic" stroke-width="3.5">
<path d="M932 855V800A9 9 0 0 1 950 800V855A18 18 0 1 1 932 855Z"/>
<path d="M941 862V806" stroke-width="3"/>
<path d="M935 810H939M935 818H939M935 826H939M935 834H939M935 842H939" stroke-width="2.2"/>
</g>
<circle cx="941" cy="870" r="8" fill="none" stroke="#000" stroke-width="3"/>
<polygon class="co" points="894,878 930,853 918,878"/>
<path class="co" d="M845 878h74v34l-6 6h-68z"/><path class="cf" d="M919 912h-6v6z"/>
<text class="ct"><tspan x="851" y="888">-</tspan><tspan x="858">Wärmebedarf</tspan><tspan x="851" y="896">-</tspan><tspan x="858">Kühlungsbedarf</tspan><tspan x="851" y="904.5">-</tspan><tspan x="858">Messwerte</tspan></text>
<rect class="ob" x="964" y="791" width="72" height="27"/>
<text class="ct"><tspan x="968" y="800">Kälte- und Wärme-</tspan><tspan x="968" y="808.5">prozesse steuern</tspan></text>
<use href="#gear" transform="translate(1032 813)"/>
</g>
<g id="buerogebaeude">
<g class="ic" stroke-width="3.2">
<rect x="908" y="923" width="40" height="22" rx="2"/>
<path d="M908 939H948M924 945V952M932 945V952M918 952H938"/>
<rect x="905" y="955" width="78" height="7"/>
<path d="M910 962V995M978 962V995M958 962V975H978"/>
<path d="M961 954L964 937H975L979 954"/>
</g>
<text class="lb" x="877" y="1020">Bürogebäude</text>
</g>

<!-- Produktion -->
<g id="strombedarf-produktion">
<text class="bd" x="1177" y="667" text-anchor="middle">Strombedarf</text>
<text class="bd" x="1177" y="693" text-anchor="middle">Produktion</text>
<rect class="ob" x="1048" y="710" width="81" height="41"/>
<text class="ct"><tspan x="1054" y="717">-</tspan><tspan x="1061">Steuerung steuerbarer</tspan><tspan x="1061" y="725.5">Abnehmer</tspan><tspan x="1054" y="734">-</tspan><tspan x="1061">Vorschläge</tspan><tspan x="1061" y="742.5">Produktionsplan</tspan></text>
</g>
<g id="produktionsprozesse">
<g class="ic" stroke-width="3.5">
<path d="M1124 797V765L1147 756V726H1159V752L1181 743V711H1193V748L1220 738V797Z"/>
<path d="M1147 734H1159M1181 719H1193M1124 775H1220"/>
<rect x="1136" y="783" width="28" height="14"/>
<path d="M1180 781V790M1188 781V790M1196 781V790M1204 781V790M1212 781V790" stroke-width="3"/>
</g>
<use href="#gear" transform="translate(1125 745)"/>
<text class="lb" x="1052" y="826">Produktionsprozesse</text>
<polygon class="co" points="1172,842 1184,834 1192,842"/>
<path class="co" d="M1147 842h72v19l-6 6h-66z"/><path class="cf" d="M1219 861h-6v6z"/>
<text class="ct" x="1152" y="856">Wärmebedarf</text>
</g>
<g id="produktionsplan">
<g class="ic" stroke-width="3.2">
<path d="M1282 642H1343V708L1331 720H1282Z"/>
<path d="M1343 708H1331V720"/>
<path d="M1309 646L1317 654M1317 646L1309 654M1296 683L1303 690M1303 683L1296 690M1316 699L1322 705M1322 699L1316 705" stroke-width="2.6"/>
<path d="M1299 664H1322M1317 660L1322 664L1317 668" stroke-width="2.6"/>
<path d="M1310 700Q1305 688 1318 676M1314 676H1319V681" stroke-width="2.6"/>
<path d="M1342 668L1322 698L1320 706L1327 701L1347 672Z" stroke-width="2.6"/>
</g>
<circle cx="1294" cy="664" r="4" fill="none" stroke="#000" stroke-width="2.6"/>
<circle cx="1330" cy="664" r="4" fill="none" stroke="#000" stroke-width="2.6"/>
<text class="lb" x="1366" y="689">Produktionsplan</text>
<polygon class="co" points="1371,632 1346,654 1371,650"/>
<path class="co" d="M1371 603h74v56l-6 6h-68z"/><path class="cf" d="M1445 659h-6v6z"/>
<text class="ct"><tspan x="1376" y="615">-</tspan><tspan x="1383">Schichtplan</tspan><tspan x="1376" y="623">-</tspan><tspan x="1383">Produktionsplan</tspan><tspan x="1376" y="631.5">-</tspan><tspan x="1383">Tagesverlauf</tspan><tspan x="1383" y="640">Maschinenbetrieb</tspan><tspan x="1376" y="648">-</tspan><tspan x="1383">Strombedarf</tspan></text>
</g>
<g id="lastmessung">
<g class="ic" stroke-width="3.5">
<path d="M1293.3 825.9A31 31 0 1 1 1340.7 825.9Z"/>
<path d="M1317 781V788M1292 806H1299M1299 788L1304 793M1298 822L1303 818M1317 826V832" stroke-width="3"/>
<path d="M1332 788A24 24 0 0 1 1333 823" stroke-width="3"/>
<path d="M1317 806L1327 793" stroke-width="3.2"/>
</g>
<circle cx="1317" cy="806" r="5" fill="#B394CE" stroke="#000" stroke-width="3"/>
<text class="lb" x="1360" y="797">Last- und</text>
<text class="lb" x="1360" y="825">Verbrauchsmessung</text>
<polygon class="co" points="1362,752 1342,781 1362,768"/>
<path class="co" d="M1362 733h74v35l-6 6h-68z"/><path class="cf" d="M1436 768h-6v6z"/>
<text class="ct"><tspan x="1366" y="748">Lastmessungen</tspan><tspan x="1366" y="756">relevanter Verbraucher</tspan></text>
</g>
<g id="steuerbare-abnehmer">
<g class="ic" stroke-width="3">
<path d="M1307 882H1279V890H1307M1307 894H1279V901H1307"/>
<rect x="1308" y="881" width="30" height="15" rx="6"/>
<path d="M1341 871H1356M1343 871L1348 885L1343 903M1354 871L1349 885L1354 903M1341 903H1356M1338 889H1358"/>
<path d="M1318 896L1313 909M1332 896L1327 909"/>
<path d="M1327 922L1342 941M1314 924L1322 941"/>
<rect x="1318" y="941" width="39" height="9"/>
<path d="M1330 932L1344 925" stroke-width="2.5"/>
</g>
<circle cx="1318" cy="888.5" r="3" fill="none" stroke="#000" stroke-width="2.4"/>
<circle cx="1328" cy="888.5" r="3" fill="none" stroke="#000" stroke-width="2.4"/>
<circle cx="1320" cy="917" r="9" fill="#B394CE" stroke="#000" stroke-width="3"/>
<path d="M1315 917H1325M1320 912V922" stroke="#000" stroke-width="2.4"/>
<use href="#gp" transform="translate(1291 934) scale(1.3)" fill="none" stroke="#000" stroke-width="2.2"/>
<circle cx="1291" cy="934" r="5" fill="none" stroke="#000" stroke-width="2.6"/>
<path d="M1291 903V916" stroke="#000" stroke-width="2.5" stroke-dasharray="2 2"/>
<text class="lb" x="1380" y="905">Steuerbare</text>
<text class="lb" x="1380" y="932">Abnehmer</text>
<polygon class="co" points="1382,862 1356,878 1382,876"/>
<path class="co" d="M1382 850h74v30l-6 6h-68z"/><path class="cf" d="M1456 880h-6v6z"/>
<text class="ct"><tspan x="1387" y="860">-</tspan><tspan x="1394">Strombedarf</tspan><tspan x="1387" y="868.5">-</tspan><tspan x="1394">Tagesverlauf</tspan><tspan x="1387" y="877">-</tspan><tspan x="1394">Flexibilitätspotenzial</tspan></text>
</g>
<g id="waerme-kuehlung">
<g class="ic" stroke-width="3">
<rect x="1092" y="932" width="10" height="58" rx="2"/>
<rect x="1105" y="930" width="9" height="60" rx="4"/>
<rect x="1117" y="930" width="9" height="60" rx="4"/>
<rect x="1129" y="930" width="9" height="60" rx="4"/>
<rect x="1141" y="930" width="9" height="60" rx="4"/>
<rect x="1153" y="932" width="10" height="58" rx="2"/>
<path d="M1102 946H1105M1114 946H1117M1126 946H1129M1138 946H1141M1150 946H1153M1102 976H1105M1114 976H1117M1126 976H1129M1138 976H1141M1150 976H1153"/>
<path d="M1123 916L1118 923H1125L1120 929M1135 916L1130 923H1137L1132 929" stroke-width="2.4"/>
</g>
<text class="lb" x="1046" y="1017">Wärme / Kühlung</text>
<polygon class="co" points="1185,963 1166,970 1185,978"/>
<path class="co" d="M1185 953h72v34l-6 6h-66z"/><path class="cf" d="M1257 987h-6v6z"/>
<text class="ct"><tspan x="1191" y="964">-</tspan><tspan x="1197">Wärmebedarf</tspan><tspan x="1191" y="972.5">-</tspan><tspan x="1197">Kühlungsbedarf</tspan><tspan x="1191" y="981">-</tspan><tspan x="1197">Messwerte</tspan></text>
</g>
</svg>
